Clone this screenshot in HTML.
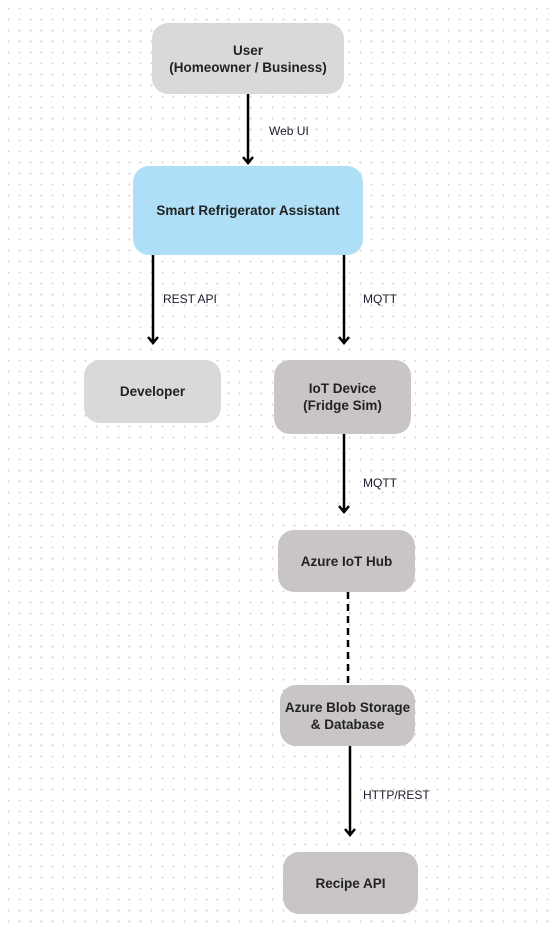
<!DOCTYPE html>
<html><head><meta charset="utf-8"><style>
html,body{margin:0;padding:0}
body{width:552px;height:926px;position:relative;overflow:hidden;background:#fff;
background-image:radial-gradient(circle,#d4d4d4 0.9px,transparent 1.2px);background-size:11px 11px;background-position:3px 3px;
font-family:"Liberation Sans",sans-serif}
.n{position:absolute;display:flex;align-items:center;justify-content:center;text-align:center;border-radius:16px;font-weight:bold;font-size:13.5px;color:#222;line-height:17px}
.g{background:#d9d9d9}.d{background:#c9c5c4}.b{background:#aedff7}
.l{position:absolute;font-size:12px;color:#1a1a2a}
svg{position:absolute;left:0;top:0}
</style></head><body>
<div class="n g" style="left:152px;top:23px;width:192px;height:71px">User<br>(Homeowner / Business)</div>
<div class="n b" style="left:133px;top:166px;width:230px;height:89px">Smart Refrigerator Assistant</div>
<div class="n g" style="left:84px;top:360px;width:137px;height:63px">Developer</div>
<div class="n d" style="left:274px;top:360px;width:137px;height:74px">IoT Device<br>(Fridge Sim)</div>
<div class="n d" style="left:278px;top:530px;width:137px;height:62px">Azure IoT Hub</div>
<div class="n d" style="left:280px;top:685px;width:135px;height:61px">Azure Blob Storage<br>&amp; Database</div>
<div class="n d" style="left:283px;top:852px;width:135px;height:62px">Recipe API</div>
<svg width="552" height="926" stroke="#000" stroke-width="2.5" fill="none">
<path d="M248 94V163M243 157l5 6 5-6"/>
<path d="M153 255V343M148 337l5 6 5-6"/>
<path d="M344 255V343M339 337l5 6 5-6"/>
<path d="M344 434V512M339 506l5 6 5-6"/>
<path d="M348 592V685" stroke-dasharray="7 5"/>
<path d="M350 746V835M345 829l5 6 5-6"/>
</svg>
<div class="l" style="left:269px;top:124px">Web UI</div>
<div class="l" style="left:163px;top:292px">REST API</div>
<div class="l" style="left:363px;top:292px">MQTT</div>
<div class="l" style="left:363px;top:476px">MQTT</div>
<div class="l" style="left:363px;top:788px">HTTP/REST</div>
</body></html>
